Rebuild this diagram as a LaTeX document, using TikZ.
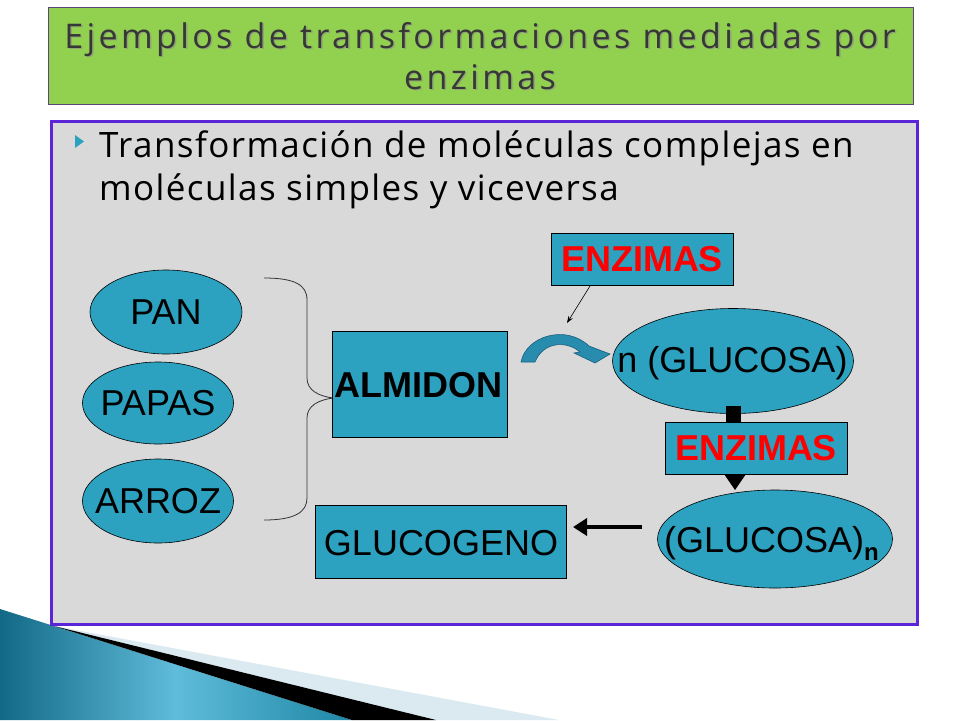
\documentclass[tikz,border=0pt]{standalone}
\usepackage{fontspec}
\setmainfont{Liberation Sans}
\newfontfamily\titlefont[LetterSpace=10]{Open Sans}
\newfontfamily\bodyfont[LetterSpace=4]{Open Sans}
\usetikzlibrary{shapes.geometric,arrows.meta}
\definecolor{teal1}{RGB}{44,161,192}
\definecolor{bg}{RGB}{217,217,217}
\definecolor{grn}{RGB}{146,208,80}
\definecolor{purp}{RGB}{91,36,214}
\definecolor{tborder}{RGB}{90,70,120}
\definecolor{ttext}{RGB}{55,55,55}
\definecolor{enzred}{RGB}{255,0,0}
\definecolor{curvef}{RGB}{40,140,175}
\definecolor{curved}{RGB}{25,95,125}
\definecolor{lblue}{RGB}{218,234,240}
\definecolor{tealdark}{RGB}{18,105,135}
\definecolor{teallight}{RGB}{95,188,218}
\definecolor{tealmid}{RGB}{30,135,165}
\tikzset{
  ell/.style={ellipse, draw=black, line width=0.6pt, fill=teal1, inner sep=0pt, font=\fontsize{36}{36}\selectfont},
  boxn/.style={rectangle, draw=black, line width=0.6pt, fill=teal1, inner sep=0pt, font=\fontsize{36}{36}\selectfont},
  enzbox/.style={rectangle, draw=black, line width=0.6pt, fill=teal1, inner sep=0pt, text=enzred, font=\fontsize{36}{36}\selectfont\bfseries},
  bodytxt/.style={anchor=base west, inner sep=0pt, font=\bodyfont\fontsize{35}{35}\selectfont},
  ttltxt/.style={font=\titlefont\fontsize{34}{41}\selectfont, align=center, inner sep=0pt},
}
\begin{document}
\begin{tikzpicture}[x=1pt,y=-1pt]
\useasboundingbox (0,0) rectangle (960,720);
\fill[white] (0,0) rectangle (960,720);
% bottom-left decoration
\shade[left color=tealdark, right color=tealmid, middle color=teallight] (0,609) -- (352,720) -- (0,720) -- cycle;
\fill[lblue] (54,626) -- (559,720) -- (436,720) -- cycle;
\fill[black] (54,626) -- (436,720) -- (352,720) -- cycle;
% title box
\node[rectangle, draw=tborder, line width=0.8pt, fill=grn, minimum width=865pt, minimum height=97pt, anchor=north west, inner sep=0pt] (title) at (48,7) {};
\node[ttltxt, text=black!45, opacity=0.6] at (481.5,57.5) {Ejemplos de transformaciones mediadas por\\enzimas};
\node[ttltxt, text=ttext] (ttl) at (480,56) {Ejemplos de transformaciones mediadas por\\enzimas};
% content box
\node[rectangle, draw=purp, line width=3pt, fill=bg, minimum width=866pt, minimum height=503pt, anchor=north west, inner sep=0pt] (content) at (50,120) {};
\fill[teal1] (75,135) -- (84,141.5) -- (75,148) -- cycle;
\node[bodytxt] (l1) at (99,157) {Transformación de moléculas complejas en};
\node[bodytxt] (l2) at (99,200) {moléculas simples y viceversa};
% left ellipses
\node[ell, minimum width=152pt, minimum height=84pt] (pan) at (166,312) {\makebox[0pt]{PAN}};
\node[ell, minimum width=151pt, minimum height=82pt] (papas) at (158,403) {\makebox[0pt]{PAPAS}};
\node[ell, minimum width=151pt, minimum height=84pt] (arroz) at (158,501) {\makebox[0pt]{ARROZ}};
% brace
\draw[line width=0.8pt, black!80] (264,278) .. controls (295,278) and (307,285) .. (307,300) -- (307,378) .. controls (307,390) and (318,396) .. (333,398)
  .. controls (318,400) and (307,406) .. (307,418) -- (307,498) .. controls (307,512) and (295,520) .. (264,520);
% boxes
\node[boxn, minimum width=175pt, minimum height=106pt, anchor=north west] (alm) at (332,331) {};
\node[font=\fontsize{36}{36}\selectfont\bfseries, inner sep=0pt] at (418.5,385) {ALMIDON};
\node[boxn, minimum width=251pt, minimum height=73pt, anchor=north west] (gluc) at (315,505) {};
\node[font=\fontsize{36}{36}\selectfont, inner sep=0pt] at (441,543) {GLUCOGENO};
% enzymes top
\node[enzbox, minimum width=182pt, minimum height=52pt] (enz1) at (642,259) {ENZIMAS};
\coordinate (a1s) at (590,286);
\coordinate (a1e) at (567,323);
\draw[line width=0.6pt, -{Stealth[length=7pt,width=5pt]}] (a1s) -- (a1e);
% curved arrow
\filldraw[fill=curvef, draw=curved, line width=0.6pt] (521,362) .. controls (526,336) and (566,324) .. (589,346) -- (610,354) -- (595,363) -- (574,353) -- (580,352) .. controls (566,340) and (543,342) .. (535,362) -- cycle;
% n (GLUCOSA)
\node[ell, minimum width=241pt, minimum height=105pt] (glu) at (733,361) {};
\node[font=\fontsize{36}{36}\selectfont, inner sep=0pt] at (732.5,363) {n (GLUCOSA)};
% block arrow down
\fill[black] (726,406) rectangle (741,424);
\fill[black] (724,474) -- (746,474) -- (735,490) -- cycle;
\node[enzbox, minimum width=182pt, minimum height=52pt] (enz2) at (756,448) {ENZIMAS};
% (GLUCOSA)n
\node[ell, minimum width=235pt, minimum height=98pt] (glun) at (775,539) {};
\node[font=\fontsize{36}{36}\selectfont, inner sep=0pt, anchor=base west] at (664,552) {(GLUCOSA)\raisebox{-8pt}{\fontsize{24}{24}\selectfont\bfseries n}};
% left arrow
\coordinate (la) at (642,527);
\coordinate (lb) at (573,527);
\draw[line width=4pt, -{Triangle[length=14pt,width=17pt]}] (la) -- (lb);
\end{tikzpicture}
\end{document}
